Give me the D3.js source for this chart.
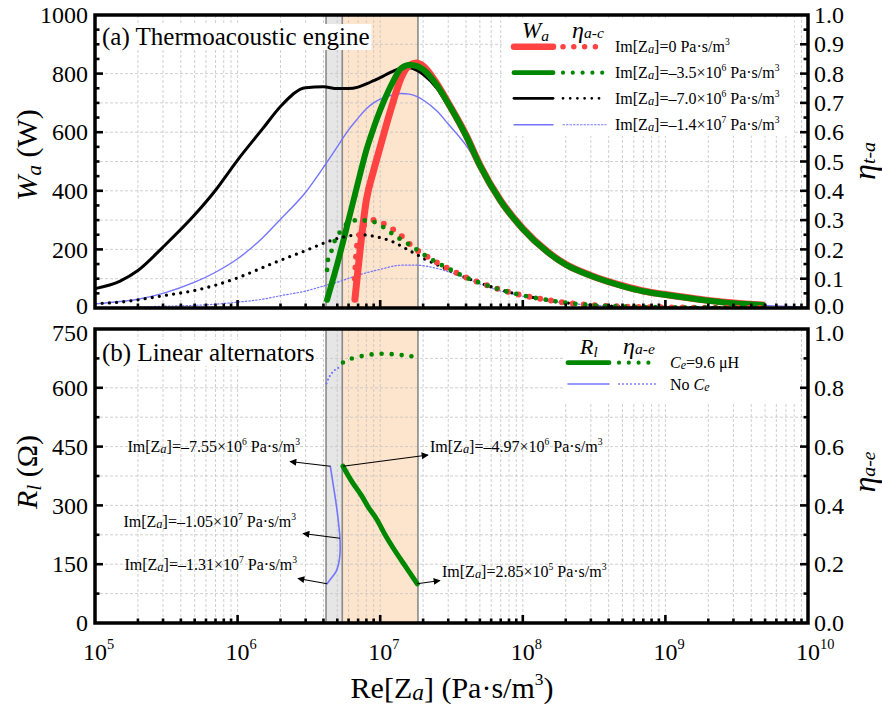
<!DOCTYPE html>
<html>
<head>
<meta charset="utf-8">
<script src="https://cdn.jsdelivr.net/npm/d3@7"></script>
<style>
  html, body { margin: 0; padding: 0; background: #fff; }
  svg { display: block; }
  svg text { font-family: "Liberation Serif", "DejaVu Serif", "Noto Serif", serif; }
</style>
</head>
<body>
<svg id="chart" width="882" height="710"></svg>
<script>
// ---------- Panel (a): acoustic power W_a and efficiency, vs Re[Za] ----------
// Im[Za] = 0
const reRed   = [6.65e6, 7e6, 8e6, 9e6, 1e7, 1.2e7, 1.4e7, 1.6e7, 1.8e7, 2e7, 2.5e7, 3e7, 4e7, 5e7, 7e7, 1e8, 1.5e8, 2e8, 3e8, 5e8, 7e8, 1e9, 2e9, 3e9, 4.8e9];
const waRed   = [30, 135, 369, 470, 550, 685, 785, 828, 836, 826, 765, 700, 590, 488, 366, 271, 191, 149, 111, 76, 58, 46, 26, 17, 10];
const reEtaRed  = [6.65e6, 6.8e6, 7e6, 7.5e6, 8e6, 9e6, 1e7, 1.2e7, 1.4e7, 1.6e7, 1.8e7, 2e7, 2.5e7, 3e7, 4e7, 5e7, 7e7, 1e8, 1.5e8, 2e8, 3e8, 5e8, 1e9, 2e9, 4.8e9];
const etaRed    = [0.10, 0.19, 0.23, 0.275, 0.29, 0.30, 0.293, 0.272, 0.247, 0.219, 0.198, 0.184, 0.155, 0.135, 0.104, 0.086, 0.062, 0.043, 0.027, 0.018, 0.010, 0.005, 0.002, 0.001, 0.0];

// Im[Za] = -3.5e6
const reGreen = [4.24e6, 5e6, 6e6, 7e6, 8e6, 9e6, 1e7, 1.2e7, 1.4e7, 1.6e7, 1.8e7, 2e7, 2.5e7, 3e7, 4e7, 5e7, 7e7, 1e8, 1.5e8, 2e8, 3e8, 5e8, 7e8, 1e9, 2e9, 3e9, 4.8e9];
const waGreen = [28, 150, 300, 430, 539, 615, 675, 762, 818, 829, 826, 814, 760, 698, 588, 487, 365, 270, 190, 148, 110, 75, 57, 45, 25, 16, 10];
const reEtaGreen = [4.24e6, 4.3e6, 4.58e6, 4.82e6, 5.24e6, 5.95e6, 7e6, 8e6, 9.5e6, 1.12e7, 1.31e7, 1.5e7, 1.7e7, 2e7, 2.5e7, 3e7, 4e7, 5e7, 7e7, 1e8, 1.5e8, 2e8, 3e8, 5e8, 1e9, 2e9, 4.8e9];
const etaGreen   = [0.13, 0.164, 0.198, 0.232, 0.26, 0.29, 0.30, 0.298, 0.29, 0.266, 0.242, 0.225, 0.208, 0.184, 0.155, 0.135, 0.104, 0.086, 0.062, 0.043, 0.027, 0.018, 0.010, 0.005, 0.002, 0.001, 0.0];

// Im[Za] = -7.0e6
const reBlack = [1e5, 1.5e5, 2e5, 3e5, 5e5, 7e5, 1e6, 1.5e6, 2e6, 3e6, 4e6, 5e6, 6e6, 7e6, 8e6, 9e6, 1e7, 1.2e7, 1.4e7, 1.6e7, 1.8e7, 2e7, 2.5e7, 3e7, 4e7, 5e7, 7e7, 1e8, 1.5e8, 2e8, 3e8, 5e8, 7e8, 1e9, 2e9, 3e9, 5e9];
const waBlack = [66, 92, 128, 208, 318, 402, 505, 612, 688, 752, 755, 749, 749, 754, 765, 776, 786, 806, 818, 820, 812, 798, 750, 690, 590, 489, 367, 272, 192, 150, 112, 77, 59, 47, 27, 18, 9];
const reEtaBlack = [1e5, 1.5e5, 2e5, 3e5, 5e5, 7e5, 1e6, 1.5e6, 2e6, 3e6, 4e6, 5e6, 6e6, 7e6, 8e6, 9e6, 1e7, 1.2e7, 1.4e7, 1.6e7, 1.8e7, 2e7, 2.5e7, 3e7, 4e7, 5e7, 7e7, 1e8, 1.5e8, 2e8, 3e8, 5e8, 1e9, 2e9, 5e9];
const etaBlack   = [0.015, 0.02, 0.028, 0.042, 0.06, 0.078, 0.103, 0.138, 0.163, 0.196, 0.221, 0.237, 0.246, 0.25, 0.249, 0.245, 0.24, 0.228, 0.212, 0.196, 0.183, 0.17, 0.148, 0.13, 0.103, 0.086, 0.062, 0.043, 0.027, 0.018, 0.010, 0.005, 0.002, 0.001, 0.0];

// Im[Za] = -1.4e7
const reBlue = [1e5, 1.5e5, 2e5, 3e5, 5e5, 7e5, 1e6, 1.5e6, 2e6, 3e6, 4e6, 5e6, 6e6, 7e6, 8e6, 9e6, 1e7, 1.2e7, 1.4e7, 1.6e7, 1.8e7, 2e7, 2.5e7, 3e7, 4e7, 5e7, 7e7, 1e8, 1.5e8, 2e8, 3e8, 5e8, 7e8, 1e9, 2e9, 3e9, 5e9, 1e10];
const waBlue = [14, 22, 30, 50, 88, 122, 168, 240, 303, 395, 480, 550, 608, 648, 680, 700, 713, 726, 732, 730, 722, 710, 672, 628, 555, 480, 365, 272, 192, 150, 112, 77, 58, 46, 27, 17, 9, 3];
const reEtaBlue = [1e5, 2e5, 3e5, 5e5, 7e5, 1e6, 1.5e6, 2e6, 3e6, 4e6, 5e6, 7e6, 1e7, 1.4e7, 1.8e7, 2.5e7, 3e7, 4e7, 5e7, 7e7, 1e8, 1.5e8, 2e8, 3e8, 5e8, 1e9, 2e9, 5e9, 1e10];
const etaBlue   = [0.002, 0.004, 0.006, 0.009, 0.013, 0.02, 0.03, 0.042, 0.058, 0.075, 0.088, 0.112, 0.132, 0.146, 0.146, 0.135, 0.124, 0.102, 0.082, 0.058, 0.04, 0.025, 0.017, 0.010, 0.005, 0.002, 0.001, 0.0005, 0.0];

// ---------- Panel (b): load resistance R_l and alternator efficiency ----------
// with Ce = 9.6 uH
const reRlCe  = [5.48e6, 6.3e6, 7.4e6, 8.3e6, 9.4e6, 1.08e7, 1.24e7, 1.5e7, 1.82e7];
const rlCe    = [400, 362, 325, 294, 266, 226, 190, 145, 100];
const reEtaCe = [5.48e6, 6e6, 7e6, 8.5e6, 1.05e7, 1.3e7, 1.55e7, 1.82e7];
const etaCe   = [0.886, 0.896, 0.905, 0.913, 0.916, 0.913, 0.909, 0.905];
// no Ce
const reRlNo  = [4.47e6, 4.72e6, 4.95e6, 5.12e6, 5.22e6, 5.22e6, 5.1e6, 4.9e6, 4.55e6, 4.24e6];
const rlNo    = [400, 345, 295, 250, 216, 175, 150, 131, 115, 100];
const reEtaNo = [4.2e6, 4.35e6, 4.55e6, 4.8e6, 5.05e6, 5.3e6];
const etaNo   = [0.815, 0.833, 0.848, 0.86, 0.867, 0.872];

// shaded Re[Za] ranges
const bandGrey   = [4.17e6, 5.42e6];
const bandOrange = [5.42e6, 1.84e7];

// axis tick values
const waTicks   = [0, 200, 400, 600, 800, 1000];
const etaTopTicks = [0, 0.1, 0.2, 0.3, 0.4, 0.5, 0.6, 0.7, 0.8, 0.9, 1.0];
const rlTicks   = [0, 150, 300, 450, 600, 750];
const etaBotTicks = [0, 0.2, 0.4, 0.6, 0.8, 1.0];
const decadeExps = ['5', '6', '7', '8', '9', '10'];

// ---------- drawing ----------
const RED = '#ff4242', GREEN = '#008700', BLACK = '#000', BLUE = '#7474ff';

const svg = d3.select('#chart');
svg.append('rect').attr('width', 882).attr('height', 710).attr('fill', '#fff');

const X0 = 95, X1 = 808;
const x = d3.scaleLog().domain([1e5, 1e10]).range([X0, X1]);
const pTop = { y0: 15, y1: 308 }, pBot = { y0: 329, y1: 623 };
const yW    = d3.scaleLinear().domain([0, 1000]).range([pTop.y1, pTop.y0]);
const yEtaA = d3.scaleLinear().domain([0, 1]).range([pTop.y1, pTop.y0]);
const yR    = d3.scaleLinear().domain([0, 750]).range([pBot.y1, pBot.y0]);
const yEtaB = d3.scaleLinear().domain([0, 1]).range([pBot.y1, pBot.y0]);

const defs = svg.append('defs');
[['clipTop', pTop], ['clipBot', pBot]].forEach(([id, p]) => {
  defs.append('clipPath').attr('id', id).append('rect')
    .attr('x', X0).attr('y', p.y0).attr('width', X1 - X0).attr('height', p.y1 - p.y0);
});
defs.append('marker').attr('id', 'arrow').attr('viewBox', '0 0 10 10')
  .attr('refX', 9).attr('refY', 5).attr('markerWidth', 9).attr('markerHeight', 7)
  .attr('markerUnits', 'userSpaceOnUse').attr('orient', 'auto')
  .append('path').attr('d', 'M0,0 L10,5 L0,10 Z').attr('fill', '#000');

// rich text helper: parts with italic / scale / vertical shift (em of base size)
function rich(g, px, py, parts, size, anchor) {
  const t = g.append('text').attr('x', px).attr('y', py)
    .attr('font-size', size)
    .attr('text-anchor', anchor || 'start').attr('fill', '#000');
  let shift = 0;
  parts.forEach(p => {
    const s = p.sh || 0;
    const ts = t.append('tspan').text(p.t);
    const dy = -(s - shift) * size;
    if (dy) ts.attr('dy', dy);
    shift = s;
    if (p.it) ts.attr('font-style', 'italic');
    if (p.sc) ts.attr('font-size', size * p.sc);
  });
  return t;
}
function imParts(val, exp) {
  const out = [{ t: 'Im[Z' }, { t: 'a', it: 1, sc: 0.78, sh: -0.06 }, { t: ']=' + val, sh: 0 }];
  if (exp) out.push({ t: exp, sc: 0.6, sh: 0.42 });
  out.push({ t: ' Pa·s/m', sh: 0 }, { t: '3', sc: 0.6, sh: 0.42 });
  return out;
}

const layers = {};
['bands', 'grid', 'curves', 'boxes', 'axes', 'text'].forEach(k => layers[k] = svg.append('g'));

// shaded bands in both panels
[pTop, pBot].forEach(p => {
  layers.bands.append('rect').attr('x', x(bandGrey[0])).attr('width', x(bandGrey[1]) - x(bandGrey[0]))
    .attr('y', p.y0).attr('height', p.y1 - p.y0).attr('fill', '#e6e6e6');
  layers.bands.append('rect').attr('x', x(bandOrange[0])).attr('width', x(bandOrange[1]) - x(bandOrange[0]))
    .attr('y', p.y0).attr('height', p.y1 - p.y0).attr('fill', '#fde4cc');
});

// grid lines
const xt = x.ticks();
function grid(p, yScale, values) {
  const g = layers.grid.append('g').attr('stroke', '#c4c4c4').attr('stroke-width', 0.8)
    .attr('stroke-dasharray', '3,2');
  xt.forEach(v => g.append('line').attr('x1', x(v)).attr('x2', x(v)).attr('y1', p.y0).attr('y2', p.y1));
  values.forEach(v => g.append('line').attr('x1', X0).attr('x2', X1).attr('y1', yScale(v)).attr('y2', yScale(v)));
}
grid(pTop, yW, d3.range(100, 1000, 100));
grid(pBot, yR, d3.range(75, 750, 75));

// band edge lines on top of grid
[pTop, pBot].forEach(p => {
  [bandGrey[0], bandGrey[1], bandOrange[1]].forEach(v => {
    layers.grid.append('line').attr('x1', x(v)).attr('x2', x(v)).attr('y1', p.y0).attr('y2', p.y1)
      .attr('stroke', '#8a8a8a').attr('stroke-width', 1.6);
  });
});

// curves: monotone in x for functions of Re, Catmull-Rom for parametric loci
function curve(g, re, vals, yScale, stroke, width, dash, parametric) {
  const line = d3.line().x(d => x(d[0])).y(d => yScale(d[1]))
    .curve(parametric ? d3.curveCatmullRom.alpha(0.5) : d3.curveMonotoneX);
  const path = g.append('path').datum(d3.zip(re, vals)).attr('d', line)
    .attr('fill', 'none').attr('stroke', stroke).attr('stroke-width', width)
    .attr('stroke-linecap', 'round').attr('stroke-linejoin', 'round');
  if (dash) path.attr('stroke-dasharray', dash);
  return path;
}
const gTop = layers.curves.append('g').attr('clip-path', 'url(#clipTop)');
const gBot = layers.curves.append('g').attr('clip-path', 'url(#clipBot)');

curve(gTop, reBlue, waBlue, yW, BLUE, 1.4);
curve(gTop, reEtaBlue, etaBlue, yEtaA, BLUE, 1.2, '1.5 2');
curve(gTop, reBlack, waBlack, yW, BLACK, 3);
curve(gTop, reRed, waRed, yW, RED, 7);
curve(gTop, reGreen, waGreen, yW, GREEN, 6);
curve(gTop, reEtaBlack, etaBlack, yEtaA, BLACK, 3.3, '0 7.2');
curve(gTop, reEtaRed, etaRed, yEtaA, RED, 6, '0 11');
curve(gTop, reEtaGreen, etaGreen, yEtaA, GREEN, 4.8, '0 10');

curve(gBot, reRlNo, rlNo, yR, BLUE, 1.6, null, true);
curve(gBot, reEtaNo, etaNo, yEtaB, BLUE, 2.2, '0 4', true);
curve(gBot, reRlCe, rlCe, yR, GREEN, 5, null, true);
curve(gBot, reEtaCe, etaCe, yEtaB, GREEN, 4.6, '0 10', true);

// panel titles with white backing
const titleA = rich(layers.text, 102, 45, [{ t: '(a) Thermoacoustic engine' }], 25);
const titleB = rich(layers.text, 102, 361, [{ t: '(b) Linear alternators' }], 25);
[titleA, titleB].forEach(t => {
  const b = t.node().getBBox();
  layers.boxes.append('rect').attr('x', b.x - 3).attr('y', b.y + 1).attr('width', b.width + 5)
    .attr('height', b.height - 2).attr('fill', '#fff');
});

// legend (a)
layers.boxes.append('rect').attr('x', 502).attr('y', 18).attr('width', 292).attr('height', 118).attr('fill', '#fff');
rich(layers.text, 522, 38, [{ t: 'W', it: 1 }, { t: 'a', it: 1, sc: 0.68, sh: -0.12 }], 23);
rich(layers.text, 572, 38, [{ t: 'η', it: 1 }, { t: 'a-c', it: 1, sc: 0.65, sh: 0.02 }], 24);
const legA = [
  { c: RED, w: 6.5, dw: 5.5, dash: '0 10.8', label: imParts('0') },
  { c: GREEN, w: 4.8, dw: 4.2, dash: '0 9.8', label: imParts('–3.5×10', '6') },
  { c: BLACK, w: 2.8, dw: 2.8, dash: '0 7.2', label: imParts('–7.0×10', '6') },
  { c: BLUE, w: 1.4, dw: 1.1, dash: '1.5 2', label: imParts('–1.4×10', '7') }
];
const legAY = [46.7, 72.7, 98.3, 124.7];
legA.forEach((r, i) => {
  const y = legAY[i];
  layers.text.append('line').attr('x1', 514).attr('x2', 553).attr('y1', y).attr('y2', y)
    .attr('stroke', r.c).attr('stroke-width', r.w).attr('stroke-linecap', 'round');
  layers.text.append('line').attr('x1', 563).attr('x2', 606).attr('y1', y).attr('y2', y)
    .attr('stroke', r.c).attr('stroke-width', r.dw).attr('stroke-linecap', 'round')
    .attr('stroke-dasharray', r.dash);
  rich(layers.text, 615, y + 5.5, r.label, 16);
});

// legend (b)
layers.boxes.append('rect').attr('x', 565).attr('y', 333).attr('width', 234).attr('height', 70).attr('fill', '#fff');
rich(layers.text, 580, 354, [{ t: 'R', it: 1 }, { t: 'l', it: 1, sc: 0.68, sh: -0.12 }], 22);
rich(layers.text, 623, 354, [{ t: 'η', it: 1 }, { t: 'a-e', it: 1, sc: 0.65, sh: 0.02 }], 24);
const legB = [
  { c: GREEN, w: 4.8, dw: 4.2, dash: '0 9.8', y: 362.7,
    label: [{ t: 'C', it: 1 }, { t: 'e', it: 1, sc: 0.75, sh: -0.08 }, { t: '=9.6 μH', sh: 0 }] },
  { c: BLUE, w: 1.4, dw: 1.8, dash: '0 4', y: 384,
    label: [{ t: 'No ' }, { t: 'C', it: 1 }, { t: 'e', it: 1, sc: 0.75, sh: -0.08 }] }
];
legB.forEach(r => {
  layers.text.append('line').attr('x1', 568).attr('x2', 609).attr('y1', r.y).attr('y2', r.y)
    .attr('stroke', r.c).attr('stroke-width', r.w).attr('stroke-linecap', 'round');
  layers.text.append('line').attr('x1', 619).attr('x2', 658).attr('y1', r.y).attr('y2', r.y)
    .attr('stroke', r.c).attr('stroke-width', r.dw).attr('stroke-linecap', 'round')
    .attr('stroke-dasharray', r.dash);
  rich(layers.text, 670, r.y + 5.5, r.label, 16);
});

// annotations in panel (b): arrow from a curve end to its label
const notes = [
  { at: [reRlNo[0], rlNo[0]], head: [290, 461.5], tx: 300, ty: 452, anchor: 'end', label: imParts('–7.55×10', '6') },
  { at: [reRlCe[0], rlCe[0]], head: [428, 455], tx: 430, ty: 452, anchor: 'start', label: imParts('–4.97×10', '6') },
  { at: [reRlNo[4], rlNo[4]], head: [303, 533.5], tx: 296, ty: 527, anchor: 'end', label: imParts('–1.05×10', '7') },
  { at: [reRlNo[9], rlNo[9]], head: [298, 578.5], tx: 297, ty: 570, anchor: 'end', label: imParts('–1.31×10', '7') },
  { at: [reRlCe[8], rlCe[8]], head: [440, 580.5], tx: 442, ty: 577, anchor: 'start', label: imParts('2.85×10', '5') }
];
notes.forEach(n => {
  layers.text.append('line').attr('x1', x(n.at[0])).attr('y1', yR(n.at[1]))
    .attr('x2', n.head[0]).attr('y2', n.head[1]).attr('stroke', '#000').attr('stroke-width', 1.1)
    .attr('marker-end', 'url(#arrow)');
  rich(layers.text, n.tx, n.ty, n.label, 16, n.anchor);
});

// axes: frames and inward ticks
const ax = layers.axes;
function frame(p) {
  ax.append('rect').attr('x', X0).attr('y', p.y0).attr('width', X1 - X0).attr('height', p.y1 - p.y0)
    .attr('fill', 'none').attr('stroke', '#000').attr('stroke-width', 3.5);
}
function tick(x1, y1, x2, y2) {
  ax.append('line').attr('x1', x1).attr('y1', y1).attr('x2', x2).attr('y2', y2)
    .attr('stroke', '#000').attr('stroke-width', 2.6);
}
[pTop, pBot].forEach(p => {
  frame(p);
  xt.forEach(v => {
    const major = Math.abs(Math.log10(v) - Math.round(Math.log10(v))) < 1e-9;
    if (v === 1e5 || v === 1e10) return;
    tick(x(v), p.y1, x(v), p.y1 - (major ? 8 : 4.5));
  });
});
d3.range(50, 1000, 50).forEach(v => tick(X0, yW(v), X0 + (v % 200 === 0 ? 8 : 4.5), yW(v)));
d3.range(1, 20).forEach(i => tick(X1, yEtaA(i * 0.05), X1 - (i % 2 === 0 ? 8 : 4.5), yEtaA(i * 0.05)));
d3.range(75, 750, 75).forEach(v => tick(X0, yR(v), X0 + (v % 150 === 0 ? 8 : 4.5), yR(v)));
d3.range(1, 10).forEach(i => tick(X1, yEtaB(i * 0.1), X1 - (i % 2 === 0 ? 8 : 4.5), yEtaB(i * 0.1)));

// tick labels; the labels where the two panels meet are nudged apart
const TS = 24;
const fmt1 = d3.format('.1f');
const mid = TS * 0.34;
waTicks.forEach(v => rich(layers.text, 88, yW(v) + (v === 0 ? 6 : mid), [{ t: String(v) }], TS, 'end'));
rlTicks.forEach(v => rich(layers.text, 88, yR(v) + (v === 750 ? 12 : mid), [{ t: String(v) }], TS, 'end'));
etaTopTicks.forEach(v => rich(layers.text, 814, yEtaA(v) + (v === 0 ? 6 : mid), [{ t: fmt1(v) }], TS));
etaBotTicks.forEach(v => rich(layers.text, 814, yEtaB(v) + (v === 1 ? 12 : mid), [{ t: fmt1(v) }], TS));
decadeExps.forEach((e, i) => {
  const v = Math.pow(10, 5 + i);
  rich(layers.text, x(v) - TS * 0.5, 660, [{ t: '10' }, { t: e, sc: 0.6, sh: 0.45 }], TS);
});

// axis titles
rich(layers.text, 452, 698, [
  { t: 'Re[Z' }, { t: 'a', it: 1, sc: 0.78, sh: -0.06 }, { t: '] (Pa·s/m', sh: 0 },
  { t: '3', sc: 0.58, sh: 0.45 }, { t: ')', sh: 0 }
], 30, 'middle');

function vTitle(cx, cy, parts, size) {
  const g = layers.text.append('g').attr('transform', `translate(${cx},${cy}) rotate(-90)`);
  rich(g, 0, size * 0.33, parts, size, 'middle');
}
vTitle(27, 155, [{ t: 'W', it: 1 }, { t: 'a', it: 1, sc: 0.72, sh: -0.12 }, { t: ' (W)', sh: 0 }], 30);
vTitle(27, 472, [{ t: 'R', it: 1 }, { t: 'l', it: 1, sc: 0.72, sh: -0.12 }, { t: ' (Ω)', sh: 0 }], 30);
vTitle(864, 161, [{ t: 'η', it: 1 }, { t: 't-a', it: 1, sc: 0.62, sh: 0.0 }], 32);
vTitle(864, 472, [{ t: 'η', it: 1 }, { t: 'a-e', it: 1, sc: 0.62, sh: 0.0 }], 32);
</script>
</body>
</html>
